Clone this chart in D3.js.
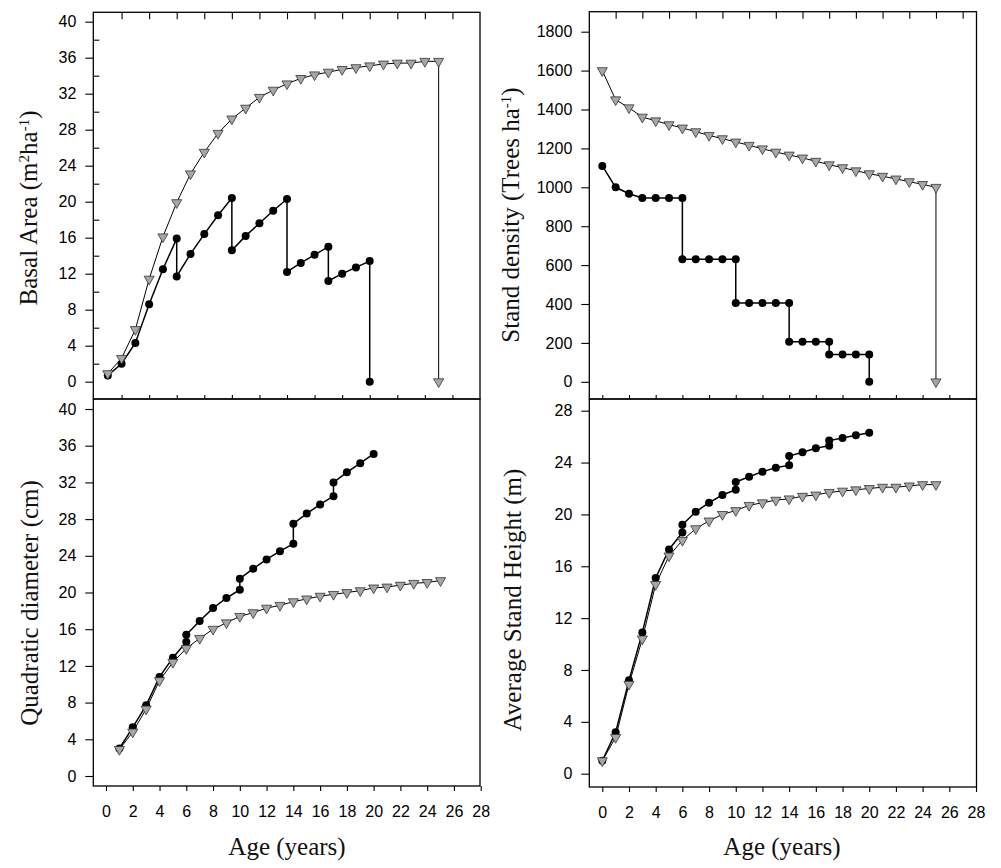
<!DOCTYPE html>
<html>
<head>
<meta charset="utf-8">
<script src="https://cdn.jsdelivr.net/npm/d3@7"></script>
<style>
  body { margin: 0; background: #fff; }
  svg { display: block; }
  .tick text { font-family: "Liberation Sans", Arial, sans-serif; font-size: 16px; fill: #000; }
  .title { font-family: "Liberation Serif", "Times New Roman", serif; font-size: 25px; fill: #111; }
</style>
</head>
<body>
<svg id="chart" width="1001" height="868"></svg>
<script>
// Basal area (top left)
const baTriAge = [1, 2, 3, 4, 5, 6, 7, 8, 9, 10, 11, 12, 13, 14, 15, 16, 17, 18, 19, 20, 21, 22, 23, 24, 25, 25];
const baTriVal = [0.9, 2.6, 5.8, 11.4, 16.1, 19.9, 23.1, 25.5, 27.6, 29.2, 30.4, 31.6, 32.4, 33.1, 33.7, 34.1, 34.4, 34.7, 34.9, 35.1, 35.3, 35.4, 35.4, 35.6, 35.6, 0];
const baCirAge = [1, 2, 3, 4, 5, 6, 6, 7, 8, 9, 10, 10, 11, 12, 13, 14, 14, 15, 16, 17, 17, 18, 19, 20, 20];
const baCirVal = [0.7, 2.0, 4.3, 8.6, 12.5, 15.9, 11.7, 14.2, 16.4, 18.5, 20.4, 14.6, 16.2, 17.6, 19.0, 20.3, 12.2, 13.2, 14.1, 15.0, 11.2, 12.0, 12.7, 13.4, 0];

// Stand density (top right)
const sdTriAge = [0, 1, 2, 3, 4, 5, 6, 7, 8, 9, 10, 11, 12, 13, 14, 15, 16, 17, 18, 19, 20, 21, 22, 23, 24, 25, 25];
const sdTriVal = [1600, 1450, 1409, 1361, 1342, 1322, 1305, 1286, 1267, 1250, 1233, 1216, 1198, 1181, 1166, 1151, 1134, 1116, 1101, 1085, 1070, 1057, 1043, 1029, 1015, 1000, 0];
const sdCirAge = [0, 1, 2, 3, 4, 5, 6, 6, 7, 8, 9, 10, 10, 11, 12, 13, 14, 14, 15, 16, 17, 17, 18, 19, 20, 20];
const sdCirVal = [1110, 1000, 967, 945, 945, 945, 945, 630, 630, 630, 630, 630, 405, 405, 405, 405, 405, 206, 206, 206, 206, 140, 140, 140, 140, 0];

// Quadratic diameter (bottom left)
const qdTriAge = [1, 2, 3, 4, 5, 6, 7, 8, 9, 10, 11, 12, 13, 14, 15, 16, 17, 18, 19, 20, 21, 22, 23, 24, 25];
const qdTriVal = [2.9, 4.8, 7.3, 10.4, 12.4, 13.9, 15.0, 16.0, 16.7, 17.4, 17.8, 18.3, 18.6, 19.0, 19.3, 19.6, 19.8, 20.0, 20.2, 20.5, 20.6, 20.8, 21.0, 21.1, 21.3];
const qdCirAge = [1, 2, 3, 4, 5, 6, 6, 7, 8, 9, 10, 10, 11, 12, 13, 14, 14, 15, 16, 17, 17, 18, 19, 20];
const qdCirVal = [3.0, 5.3, 7.7, 10.8, 12.9, 14.6, 15.4, 16.9, 18.3, 19.4, 20.3, 21.5, 22.6, 23.6, 24.5, 25.3, 27.5, 28.6, 29.6, 30.5, 32.0, 33.1, 34.1, 35.1];

// Average stand height (bottom right)
const htTriAge = [0, 1, 2, 3, 4, 5, 6, 7, 8, 9, 10, 11, 12, 13, 14, 15, 16, 17, 18, 19, 20, 21, 22, 23, 24, 25];
const htTriVal = [1.0, 2.8, 6.9, 10.4, 14.6, 16.8, 18.0, 18.9, 19.5, 20.0, 20.3, 20.7, 20.9, 21.1, 21.2, 21.4, 21.5, 21.7, 21.8, 21.9, 22.0, 22.1, 22.1, 22.2, 22.3, 22.3];
const htCirAge = [0, 1, 2, 3, 4, 5, 6, 6, 7, 8, 9, 10, 10, 11, 12, 13, 14, 14, 15, 16, 17, 17, 18, 19, 20];
const htCirVal = [1.0, 3.2, 7.2, 10.9, 15.1, 17.3, 18.6, 19.2, 20.2, 20.9, 21.5, 21.9, 22.5, 22.9, 23.3, 23.6, 23.8, 24.5, 24.8, 25.1, 25.3, 25.7, 25.9, 26.1, 26.3];

// Tick values
const ageTicks = d3.range(0, 29, 2);          // 0..28 labelled
const ageTicksInner = d3.range(2, 27, 2);     // 2..26
const ageTicksOdd = d3.range(1, 28, 2);       // 1..27
const baTicks = d3.range(0, 41, 4);
const baMinor = d3.range(2, 40, 4);
const sdTicks = d3.range(0, 1801, 200);
const qdTicks = d3.range(0, 41, 4);
const htTicks = d3.range(0, 29, 4);

const svg = d3.select("#chart");
const zip = (a, b) => a.map((v, i) => [v, b[i]]);

const drawPanel = (p) => {
  const g = svg.append("g");
  const [fx0, fy0, fx1, fy1] = p.frame;

  // y axis: major ticks out with labels
  g.append("g")
    .attr("transform", `translate(${fx0},0)`)
    .call(d3.axisLeft(p.y).tickValues(p.yTicks).tickSize(8).tickPadding(9).tickFormat(d3.format("d")))
    .call(a => a.select(".domain").remove());
  if (p.yMinor) {
    g.append("g")
      .attr("transform", `translate(${fx0},0)`)
      .call(d3.axisRight(p.y).tickValues(p.yMinor).tickSize(6).tickFormat(""))
      .call(a => a.select(".domain").remove());
  }

  // top ticks inside
  if (p.topTicks) {
    g.append("g")
      .attr("transform", `translate(0,${fy0})`)
      .call(d3.axisBottom(p.x).tickValues(p.topTicks).tickSize(7).tickFormat(""))
      .call(a => a.select(".domain").remove());
  }
  // bottom ticks: inside (top panels) or outside with labels (bottom panels)
  if (p.bottomLabels) {
    g.append("g")
      .attr("transform", `translate(0,${fy1})`)
      .call(d3.axisBottom(p.x).tickValues(ageTicks).tickSize(5).tickPadding(15))
      .call(a => a.select(".domain").remove());
  } else {
    g.append("g")
      .attr("transform", `translate(0,${fy1})`)
      .call(d3.axisTop(p.x).tickValues(p.bottomTicks).tickSize(4).tickFormat(""))
      .call(a => a.select(".domain").remove());
  }
  g.selectAll(".tick line").attr("stroke", "#000").attr("stroke-width", 1.1);

  // frame
  g.append("rect")
    .attr("x", fx0).attr("y", fy0)
    .attr("width", fx1 - fx0).attr("height", fy1 - fy0)
    .attr("fill", "none").attr("stroke", "#000").attr("stroke-width", 1.3);

  const line = d3.line().x(d => p.x(d[0])).y(d => p.y(d[1]));
  const cir = zip(p.cirAge, p.cirVal);
  const tri = zip(p.triAge, p.triVal);

  // circle series
  g.append("path").datum(cir).attr("d", line)
    .attr("fill", "none").attr("stroke", "#000").attr("stroke-width", 1.5);
  g.selectAll(".cir").data(cir).enter().append("circle")
    .attr("class", "cir")
    .attr("cx", d => p.x(d[0])).attr("cy", d => p.y(d[1]))
    .attr("r", 4).attr("fill", "#000");

  // triangle series
  g.append("path").datum(tri).attr("d", line)
    .attr("fill", "none").attr("stroke", "#000").attr("stroke-width", 1);
  const triSym = d3.symbol().type(d3.symbolTriangle).size(44);
  g.selectAll(".tri").data(tri).enter().append("path")
    .attr("class", "tri")
    .attr("transform", d => `translate(${p.x(d[0])},${p.y(d[1])}) rotate(180)`)
    .attr("d", triSym)
    .attr("fill", "#a6a6a6").attr("stroke", "#333").attr("stroke-width", 0.8);
};

drawPanel({
  frame: [93.3, 12.3, 480, 399],
  x: d3.scaleLinear().domain([0, 28]).range([94, 480]),
  y: d3.scaleLinear().domain([0, 40]).range([381.7, 21.7]),
  yTicks: baTicks, yMinor: baMinor,
  topTicks: ageTicksInner, bottomTicks: ageTicksInner,
  cirAge: baCirAge, cirVal: baCirVal, triAge: baTriAge, triVal: baTriVal
});

drawPanel({
  frame: [589.3, 11.7, 976.5, 399],
  x: d3.scaleLinear().domain([0, 28]).range([602.3, 976]),
  y: d3.scaleLinear().domain([0, 1800]).range([381.8, 31.7]),
  yTicks: sdTicks,
  topTicks: ageTicksOdd, bottomTicks: d3.range(0, 27, 2),
  cirAge: sdCirAge, cirVal: sdCirVal, triAge: sdTriAge, triVal: sdTriVal
});

drawPanel({
  frame: [93.3, 399, 480, 786],
  x: d3.scaleLinear().domain([0, 28]).range([106, 480.7]),
  y: d3.scaleLinear().domain([0, 40]).range([776, 409]),
  yTicks: qdTicks, bottomLabels: true,
  cirAge: qdCirAge, cirVal: qdCirVal, triAge: qdTriAge, triVal: qdTriVal
});

drawPanel({
  frame: [589.3, 399, 976.5, 787],
  x: d3.scaleLinear().domain([0, 28]).range([602.3, 976]),
  y: d3.scaleLinear().domain([0, 28]).range([773.7, 410.7]),
  yTicks: htTicks, bottomLabels: true,
  cirAge: htCirAge, cirVal: htCirVal, triAge: htTriAge, triVal: htTriVal
});

// axis titles
const title = (x, y, rot, parts) => {
  const t = svg.append("text").attr("class", "title")
    .attr("text-anchor", "middle")
    .attr("transform", `translate(${x},${y}) rotate(${rot})`);
  parts.forEach(([s, sup]) => {
    const ts = t.append("tspan").text(s);
    if (sup) ts.attr("baseline-shift", "super").attr("font-size", "15px");
  });
};

title(287, 855, 0, [["Age (years)"]]);
title(782, 855, 0, [["Age (years)"]]);
title(37, 208, -90, [["Basal Area (m"], ["2", true], ["ha"], ["-1", true], [")"]]);
title(519, 215, -90, [["Stand density (Trees ha"], ["-1", true], [")"]]);
title(38, 603, -90, [["Quadratic diameter (cm)"]]);
title(521, 600, -90, [["Average Stand Height (m)"]]);
</script>
</body>
</html>
